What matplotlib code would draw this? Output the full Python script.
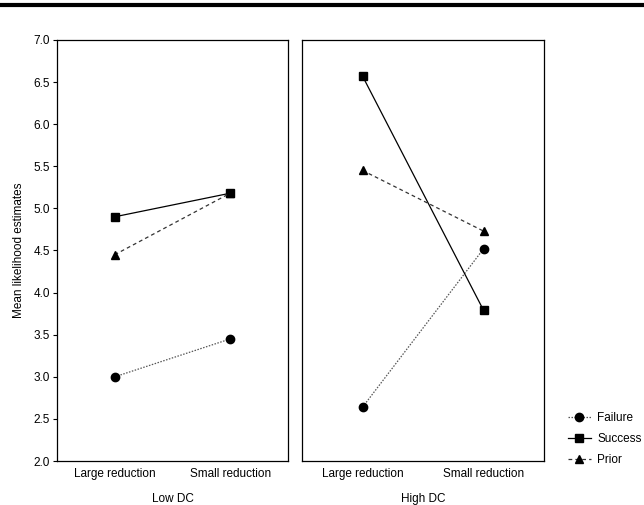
import matplotlib
matplotlib.use("Agg")
import matplotlib.pyplot as plt
from matplotlib.lines import Line2D

plt.rcParams.update({
    "font.family": ["Liberation Sans", "DejaVu Sans"],
    "font.size": 8.5,
})

conditions = ["Large reduction", "Small reduction"]
panels = ["Low DC", "High DC"]

# mean likelihood estimates, [Low DC, High DC] x [large, small]
failure = [[3.00, 3.45], [2.64, 4.52]]
success = [[4.90, 5.18], [6.57, 3.79]]
prior = [[4.45, 5.18], [5.45, 4.73]]

series = [
    ("Failure", failure, "o", (0, (1.2, 1.2)), "#555555"),
    ("Success", success, "s", "-", "black"),
    ("Prior", prior, "^", (0, (3, 2.5)), "#333333"),
]

fig = plt.figure(figsize=(6.44, 5.05), dpi=100)
ax_l = fig.add_axes([0.0885, 0.087, 0.3587, 0.834])
ax_r = fig.add_axes([0.469, 0.087, 0.3758, 0.834])

x = [1, 2]
for i, ax in enumerate([ax_l, ax_r]):
    for name, vals, marker, ls, lc in series:
        ax.plot(x, vals[i], color=lc, linestyle=ls, linewidth=0.9)
        ax.plot(x, vals[i], linestyle="none", marker=marker, color="black",
                markersize=6 if marker != "^" else 5.5)
    ax.set_xlim(0.5, 2.5)
    ax.set_ylim(2.0, 7.0)
    ax.set_xticks(x)
    ax.set_xticklabels(conditions)
    ax.tick_params(axis="x", length=0, pad=5)
    ax.set_xlabel(panels[i], labelpad=9)
    for sp in ax.spines.values():
        sp.set_linewidth(0.9)

ax_l.set_yticks([2.0, 2.5, 3.0, 3.5, 4.0, 4.5, 5.0, 5.5, 6.0, 6.5, 7.0])
ax_l.set_yticklabels([f"{v:.1f}" for v in ax_l.get_yticks()])
ax_l.tick_params(axis="y", length=3, width=0.8, pad=2)
ax_l.set_ylabel("Mean likelihood estimates", labelpad=6)
ax_r.set_yticks([])

handles = []
for name, vals, marker, ls, lc in series:
    handles.append(Line2D([], [], color=lc, linestyle=ls, linewidth=0.9,
                          marker=marker, markerfacecolor="black",
                          markeredgecolor="black",
                          markersize=6 if marker != "^" else 5.5))
fig.legend(handles, [s[0] for s in series], loc="center left",
           bbox_to_anchor=(0.865, 0.13), frameon=False, handlelength=2.0,
           handletextpad=0.5, labelspacing=0.75)

fig.add_artist(Line2D([0.0, 1.0], [0.991, 0.991], color="black", linewidth=3,
                      transform=fig.transFigure))

fig.savefig("out.png")
